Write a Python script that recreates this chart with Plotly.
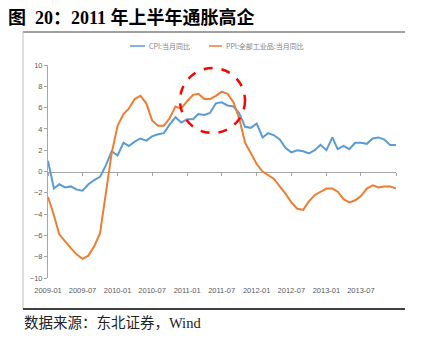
import pandas as pd
import plotly.graph_objects as go

# Monthly series, 2009-01 .. 2014-01
months = pd.date_range("2009-01-01", "2014-01-01", freq="MS")

cpi_yoy = [
    1.0, -1.6, -1.2, -1.5, -1.4, -1.7, -1.8, -1.2, -0.8, -0.5, 0.6, 1.9,
    1.5, 2.7, 2.4, 2.8, 3.1, 2.9, 3.3, 3.5, 3.6, 4.4, 5.1, 4.6,
    4.9, 4.9, 5.4, 5.3, 5.5, 6.4, 6.5, 6.2, 6.1, 5.5, 4.2, 4.1,
    4.5, 3.2, 3.6, 3.4, 3.0, 2.2, 1.8, 2.0, 1.9, 1.7, 2.0, 2.5,
    2.0, 3.2, 2.1, 2.4, 2.1, 2.7, 2.7, 2.6, 3.1, 3.2, 3.0, 2.5,
    2.5,
]

ppi_yoy = [
    -2.4, -4.1, -5.9, -6.6, -7.2, -7.8, -8.2, -7.9, -7.0, -5.8, -2.1, 1.7,
    4.3, 5.4, 5.9, 6.8, 7.1, 6.4, 4.8, 4.3, 4.3, 5.0, 6.1, 5.9,
    6.6, 7.2, 7.3, 6.8, 6.8, 7.1, 7.5, 7.3, 6.5, 5.0, 2.7, 1.7,
    0.7, 0.0, -0.3, -0.7, -1.4, -2.1, -2.9, -3.5, -3.6, -2.8, -2.2, -1.9,
    -1.6, -1.6, -1.9, -2.6, -2.9, -2.7, -2.3, -1.6, -1.3, -1.5, -1.4, -1.4,
    -1.6,
]

series_names = ["CPI:当月同比", "PPI:全部工业品:当月同比"]
series_colors = ["#5B9BD5", "#ED7D31"]

tick_dates = pd.date_range("2009-01-01", "2014-01-01", freq="6MS")
tick_labels = [d.strftime("%Y-%m") for d in tick_dates[:-1]]
y_ticks = list(range(-10, 11, 2))

title_text = "图  20：2011 年上半年通胀高企"
source_text = "数据来源：东北证券，Wind"

# Canvas geometry (pixels)
W, H = 425, 339
L, R, T, B = 48, 29, 65, 61
PW, PH = W - L - R, H - T - B


def px(x):
    return (x - L) / PW


def py(y):
    return (H - B - y) / PH


fig = go.Figure()

for name, vals, col in zip(series_names, [cpi_yoy, ppi_yoy], series_colors):
    fig.add_trace(go.Scatter(
        x=months, y=vals, mode="lines", name=name,
        line=dict(color=col, width=2), showlegend=False,
    ))

# helper trace so the zero-line axis gets drawn
fig.add_trace(go.Scatter(
    x=[months[0], months[-1]], y=[0, 0], xaxis="x2", mode="lines",
    line=dict(width=0), showlegend=False, hoverinfo="skip",
))

x_range = [months[0], months[-1]]
tick_font = dict(family="Liberation Sans, Arial", size=7.5, color="#595959")

fig.update_layout(
    width=W, height=H,
    margin=dict(l=L, r=R, t=T, b=B),
    paper_bgcolor="white", plot_bgcolor="white",
    xaxis=dict(
        type="date", range=x_range, showgrid=False, zeroline=False,
        showline=False, tickvals=list(tick_dates[:-1]), ticktext=tick_labels,
        ticks="outside", ticklen=5, tickcolor="rgba(0,0,0,0)",
        tickfont=tick_font,
    ),
    xaxis2=dict(
        type="date", range=x_range, overlaying="x", anchor="free",
        position=0.5, showgrid=False, zeroline=False, showline=True,
        linecolor="#A6A6A6", linewidth=1, ticks="outside", ticklen=3,
        tickcolor="#A6A6A6", tickvals=list(tick_dates), showticklabels=False,
        layer="below traces",
    ),
    yaxis=dict(
        range=[-10, 10], tickvals=y_ticks, showgrid=False, zeroline=False,
        showline=True, linecolor="#A6A6A6", linewidth=1, ticks="outside",
        ticklen=3, tickcolor="#A6A6A6", tickfont=tick_font,
    ),
)

shapes = []
annotations = []

# frame lines around the exhibit
shapes.append(dict(type="line", xref="paper", yref="paper",
                   x0=px(23), x1=px(405), y0=py(32), y1=py(32),
                   line=dict(color="#A0A0A0", width=2)))
shapes.append(dict(type="line", xref="paper", yref="paper",
                   x0=px(23), x1=px(23), y0=py(32), y1=py(309),
                   line=dict(color="#BFBFBF", width=1)))
shapes.append(dict(type="line", xref="paper", yref="paper",
                   x0=px(23), x1=px(405), y0=py(309), y1=py(309),
                   line=dict(color="#000000", width=1.5)))

# legend
legend_items = [(130, 145, 147), (209, 222, 224)]
for (x0, x1, tx), name, col in zip(legend_items, series_names, series_colors):
    shapes.append(dict(type="line", xref="paper", yref="paper",
                       x0=px(x0), x1=px(x1), y0=py(46), y1=py(46),
                       line=dict(color=col, width=1.5)))
    annotations.append(dict(xref="paper", yref="paper", x=px(tx), y=py(46),
                            xanchor="left", yanchor="middle", showarrow=False,
                            text=name,
                            font=dict(family="Noto Sans CJK SC", size=7,
                                      color="#7F7F7F")))

# highlight ring around the 2011 H1 peak
shapes.append(dict(type="circle", xref="paper", yref="paper",
                   x0=px(180), x1=px(245), y0=py(133), y1=py(68),
                   line=dict(color="#FF0000", width=2.5, dash="dash")))

annotations.append(dict(xref="paper", yref="paper", x=px(6), y=py(18),
                        xanchor="left", yanchor="middle", showarrow=False,
                        text="<b>" + title_text + "</b>",
                        font=dict(family="Liberation Serif, Noto Sans CJK SC",
                                  size=18, color="#000000")))
annotations.append(dict(xref="paper", yref="paper", x=px(22), y=py(323),
                        xanchor="left", yanchor="middle", showarrow=False,
                        text=source_text,
                        font=dict(family="Liberation Serif, Noto Sans CJK SC",
                                  size=14.5, color="#222222")))

fig.update_layout(shapes=shapes, annotations=annotations)

fig.write_html("out.html")
